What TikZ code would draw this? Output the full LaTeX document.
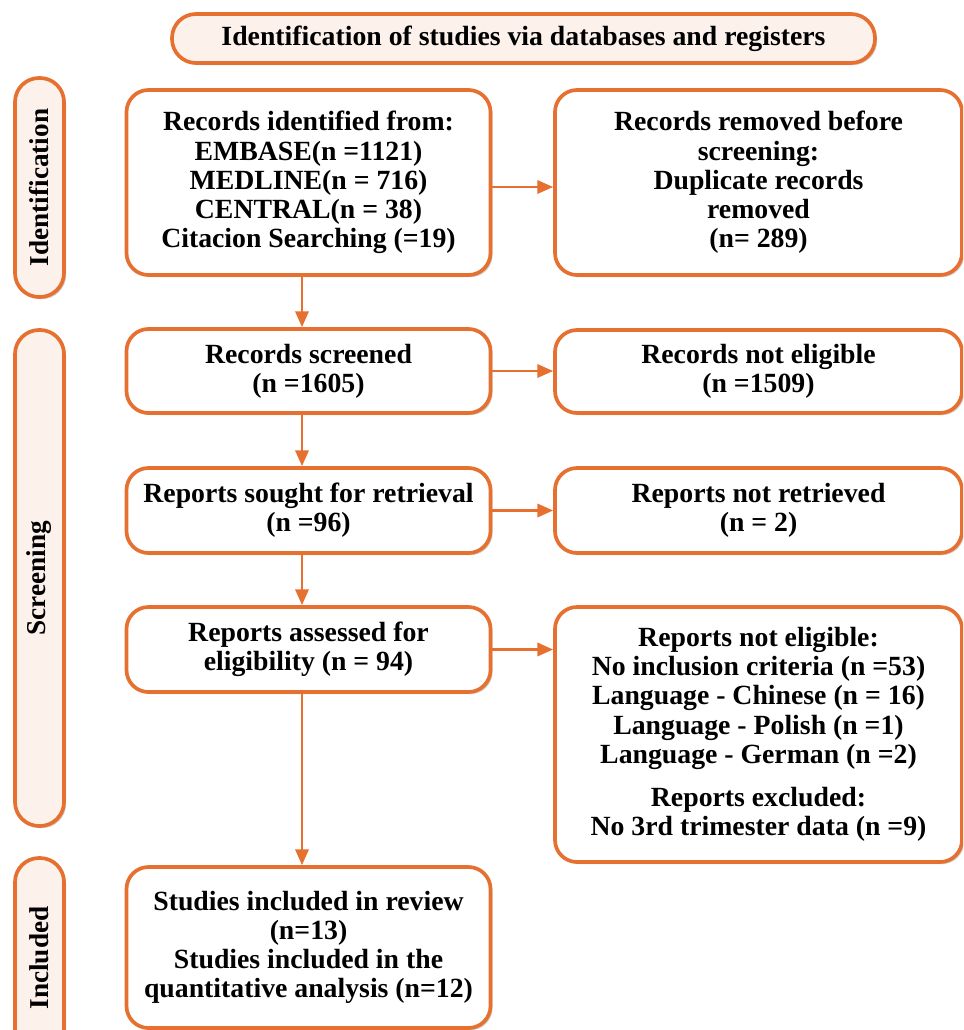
\documentclass[tikz,border=0pt]{standalone}
\usepackage{fontspec}
\setmainfont{Liberation Serif}
\usetikzlibrary{arrows.meta,shadows}
\definecolor{prismaorange}{RGB}{229,112,48}
\definecolor{prismafill}{RGB}{252,241,235}
\newlength{\pxu}
\setlength{\pxu}{0.02cm}
\tikzset{
  flowbox/.style={draw=prismaorange, line width=2.1pt, fill=white, rounded corners=22\pxu,
    align=center, font=\fontsize{15.8}{16.6}\selectfont\bfseries, inner sep=2pt,
    drop shadow={shadow xshift=1.2pt, shadow yshift=-1.2pt, opacity=0.18, fill=black}},
  stagebox/.style={draw=prismaorange, line width=2.1pt, fill=prismafill, rounded corners=24\pxu,
    rotate=90, minimum height=49\pxu, font=\fontsize{15.5}{16.6}\selectfont\bfseries,
    drop shadow={shadow xshift=1.2pt, shadow yshift=-1.2pt, opacity=0.18, fill=black}},
  flowarrow/.style={draw=prismaorange, line width=1.6pt, -{Triangle[length=9pt,width=7.5pt]}}
}
\begin{document}
\begin{tikzpicture}[x=0.02cm, y=-0.02cm]
        \clip (0,0) rectangle (963,1030);
        \fill[white] (0,0) rectangle (963,1030);

        % header
        \node[flowbox, fill=prismafill, rounded corners=24\pxu, minimum width=703\pxu, minimum height=49\pxu] (header) at (523.5,38.5) {Identification of studies via databases and registers};

        % stages
        \node[stagebox, minimum width=219\pxu] (identification) at (39.5,187.5) {Identification};
        \node[stagebox, minimum width=496\pxu] (screening) at (39.5,578) {Screening};
        \node[stagebox, minimum width=200\pxu] (included) at (39.5,958) {Included};

        % main column
        \node[flowbox, minimum width=364\pxu, minimum height=185\pxu] (identified) at (308.5,182.5) {Records identified from:\\EMBASE(n =1121)\\MEDLINE(n = 716)\\CENTRAL(n = 38)\\Citacion Searching (=19)};
        \node[flowbox, minimum width=364\pxu, minimum height=84\pxu] (screened) at (308.5,371) {Records screened\\(n =1605)};
        \node[flowbox, minimum width=364\pxu, minimum height=85\pxu] (sought) at (308.5,510.5) {Reports sought for retrieval\\(n =96)};
        \node[flowbox, minimum width=364\pxu, minimum height=85\pxu] (assessed) at (308.5,649.5) {Reports assessed for\\eligibility (n = 94)};
        \node[flowbox, minimum width=364\pxu, minimum height=161\pxu] (studies) at (308.5,947.5) {Studies included in review\\(n=13)\\Studies included in the\\quantitative analysis (n=12)};

        % side column
        \node[flowbox, minimum width=407\pxu, minimum height=185\pxu] (removed) at (758.5,182.5) {Records removed before\\screening:\\Duplicate records\\removed\\(n= 289)};
        \node[flowbox, minimum width=407\pxu, minimum height=83\pxu] (noteligible) at (758.5,371.5) {Records not eligible\\(n =1509)};
        \node[flowbox, minimum width=407\pxu, minimum height=85\pxu] (notretrieved) at (758.5,510.5) {Reports not retrieved\\(n = 2)};
        \node[flowbox, minimum width=407\pxu, minimum height=255\pxu] (excluded) at (758.5,734.5) {Reports not eligible:\\No inclusion criteria (n =53)\\Language - Chinese (n = 16)\\Language - Polish (n =1)\\Language - German (n =2)\\[8pt]Reports excluded:\\No 3rd trimester data (n =9)};

        % arrows down
        \draw[flowarrow] ([xshift=-6.5\pxu]identified.south) -- ([xshift=-6.5\pxu]screened.north);
        \draw[flowarrow] ([xshift=-6.5\pxu]screened.south) -- ([xshift=-6.5\pxu]sought.north);
        \draw[flowarrow] ([xshift=-6.5\pxu]sought.south) -- ([xshift=-6.5\pxu]assessed.north);
        \draw[flowarrow] ([xshift=-6.5\pxu]assessed.south) -- ([xshift=-6.5\pxu]studies.north);

        % arrows right
        \draw[flowarrow] ([yshift=-4.5\pxu]identified.east) -- ([yshift=-4.5\pxu]removed.west);
        \draw[flowarrow] (screened.east) -- (screened.east -| noteligible.west);
        \draw[flowarrow] (sought.east) -- (notretrieved.west);
        \draw[flowarrow] (assessed.east) -- (assessed.east -| excluded.west);
    \end{tikzpicture}
\end{document}
